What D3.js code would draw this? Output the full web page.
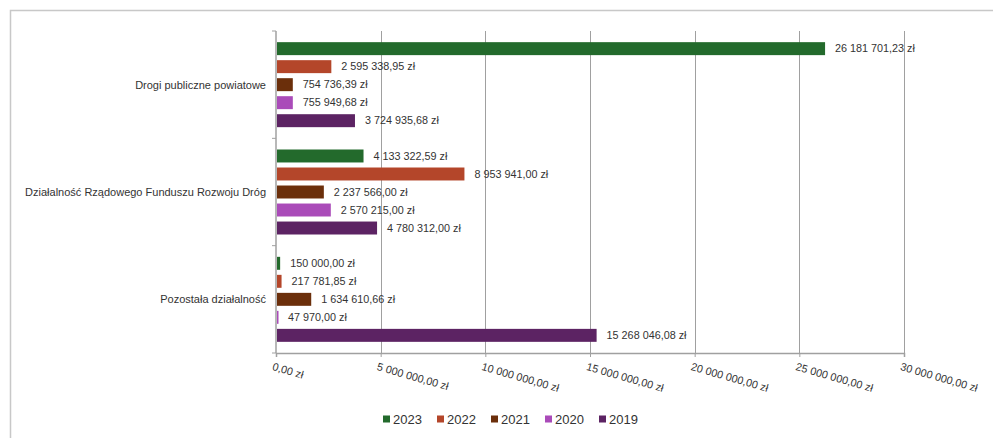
<!DOCTYPE html>
<html>
<head>
<meta charset="utf-8">
<script src="https://d3js.org/d3.v7.min.js"></script>
<style>
body { margin: 0; background: #fff; }
svg { display: block; font-family: "Liberation Sans", Arial, sans-serif; }
</style>
</head>
<body>
<script>
var categories = [
  "Drogi publiczne powiatowe",
  "Działalność Rządowego Funduszu Rozwoju Dróg",
  "Pozostała działalność"
];
var years = ["2023", "2022", "2021", "2020", "2019"];
var colors = ["#236a2c", "#b4462a", "#6b2f0b", "#aa4bb9", "#5c2363"];

// values per year, in category order
var v2023 = [26181701.23, 4133322.59, 150000.00];
var v2022 = [2595338.95, 8953941.00, 217781.85];
var v2021 = [754736.39, 2237566.00, 1634610.66];
var v2020 = [755949.68, 2570215.00, 47970.00];
var v2019 = [3724935.68, 4780312.00, 15268046.08];
var series = [v2023, v2022, v2021, v2020, v2019];

var tickValues = [0, 5000000, 10000000, 15000000, 20000000, 25000000, 30000000];

var width = 993, height = 438;
var margin = {top: 31, left: 276, right: 89, bottom: 85};

var pl = d3.formatLocale({decimal: ",", thousands: "\u00a0", grouping: [3], currency: ["", " zł"]});
var fmt = pl.format(",.2f");
function money(d) { return fmt(d).replace(/\u00a0/g, " ") + " zł"; }

var svg = d3.select("body").append("svg")
    .attr("width", width)
    .attr("height", height);

// frame
svg.append("path")
    .attr("d", "M10.5," + height + "V10.5H" + width)
    .attr("fill", "none")
    .attr("stroke", "#c8c8c8")
    .attr("stroke-width", 1.5);

var x = d3.scaleLinear()
    .domain([0, 30000000])
    .range([margin.left, width - margin.right]);

var y0 = d3.scaleBand()
    .domain(categories)
    .range([margin.top, height - margin.bottom]);

var y1 = d3.scaleBand()
    .domain(years)
    .range([0, y0.bandwidth()])
    .paddingInner(0.28)
    .paddingOuter(0.62);

// grid
svg.append("g").selectAll("line")
    .data(tickValues.slice(1))
  .enter().append("line")
    .attr("x1", function(d) { return Math.round(x(d)) + 0.5; })
    .attr("x2", function(d) { return Math.round(x(d)) + 0.5; })
    .attr("y1", margin.top)
    .attr("y2", height - margin.bottom)
    .attr("stroke", "#a0a0a0")
    .attr("stroke-width", 1);

// bars
var groups = svg.append("g").selectAll("g")
    .data(categories)
  .enter().append("g")
    .attr("transform", function(d) { return "translate(0," + y0(d) + ")"; });

groups.selectAll("rect")
    .data(function(d, i) { return years.map(function(yr, j) { return {year: yr, value: series[j][i], c: colors[j]}; }); })
  .enter().append("rect")
    .attr("x", x(0) + 1)
    .attr("y", function(d) { return y1(d.year); })
    .attr("width", function(d) { return Math.max(1.5, x(d.value) - x(0)); })
    .attr("height", y1.bandwidth())
    .attr("fill", function(d) { return d.c; });

groups.selectAll("text")
    .data(function(d, i) { return years.map(function(yr, j) { return {year: yr, value: series[j][i]}; }); })
  .enter().append("text")
    .attr("x", function(d) { return x(d.value) + 11; })
    .attr("y", function(d) { return y1(d.year) + y1.bandwidth() / 2; })
    .attr("dy", "0.35em")
    .attr("font-size", 10.8)
    .attr("fill", "#333")
    .text(function(d) { return money(d.value); });

// category axis
var yAxis = svg.append("g")
    .attr("transform", "translate(" + x(0) + ",0)");
yAxis.append("line")
    .attr("x1", 0).attr("x2", 0)
    .attr("y1", margin.top).attr("y2", height - margin.bottom)
    .attr("stroke", "#a0a0a0").attr("stroke-width", 1.5);
yAxis.selectAll("line.tk")
    .data(y0.domain().map(function(d) { return y0(d); }).concat([height - margin.bottom]))
  .enter().append("line")
    .attr("class", "tk")
    .attr("x1", -4).attr("x2", 0)
    .attr("y1", function(d) { return d; })
    .attr("y2", function(d) { return d; })
    .attr("stroke", "#a0a0a0");
yAxis.selectAll("text")
    .data(categories)
  .enter().append("text")
    .attr("x", -10)
    .attr("y", function(d) { return y0(d) + y0.bandwidth() / 2; })
    .attr("dy", "0.35em")
    .attr("text-anchor", "end")
    .attr("font-size", 11)
    .attr("fill", "#333")
    .text(function(d) { return d; });

// value axis
var xAxis = svg.append("g")
    .attr("transform", "translate(0," + (height - margin.bottom) + ")")
    .call(d3.axisBottom(x).tickValues(tickValues).tickSize(4).tickFormat(money));
xAxis.select(".domain").attr("stroke", "#a0a0a0").attr("stroke-width", 1.5);
xAxis.selectAll(".tick line").attr("stroke", "#a0a0a0");
xAxis.selectAll(".tick text")
    .attr("font-family", "Liberation Sans, Arial, sans-serif")
    .attr("font-size", 10.8)
    .attr("fill", "#333")
    .attr("text-anchor", "start")
    .attr("x", 0)
    .attr("y", 10)
    .attr("dy", "0.7em")
    .attr("transform", "rotate(16)");

// legend
var legend = svg.append("g")
    .attr("transform", "translate(383," + 419 + ")");
var item = legend.selectAll("g")
    .data(years)
  .enter().append("g")
    .attr("transform", function(d, i) { return "translate(" + (i * 54) + ",0)"; });
item.append("rect")
    .attr("x", 0).attr("y", -3.5)
    .attr("width", 7).attr("height", 7)
    .attr("fill", function(d, i) { return colors[i]; });
item.append("text")
    .attr("x", 10)
    .attr("dy", "0.36em")
    .attr("font-size", 13)
    .attr("fill", "#333")
    .text(function(d) { return d; });
</script>
</body>
</html>
